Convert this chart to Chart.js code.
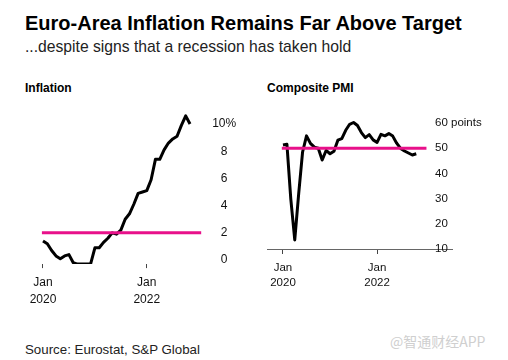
<!DOCTYPE html>
<html>
<head>
<meta charset="utf-8">
<script src="https://cdn.jsdelivr.net/npm/chart.js@4.4.0/dist/chart.umd.min.js"></script>
<style>
  body { margin: 0; width: 508px; height: 360px; overflow: hidden; position: relative; background: #fff;
         font-family: "Liberation Sans", Arial, sans-serif; color: #000; }
  .t { position: absolute; white-space: nowrap; line-height: 1; }
  canvas { position: absolute; left: 0; top: 0; }
</style>
</head>
<body>
<div class="t" style="left:25px;top:13px;font-size:20px;font-weight:bold">Euro-Area Inflation Remains Far Above Target</div>
<div class="t" style="left:25px;top:39px;font-size:15.7px;color:#222">...despite signs that a recession has taken hold</div>
<div class="t" style="left:25px;top:81.5px;font-size:12px;font-weight:bold">Inflation</div>
<div class="t" style="left:267px;top:81.5px;font-size:12px;font-weight:bold">Composite PMI</div>
<div class="t" style="left:25px;top:343px;font-size:13.3px;color:#222">Source: Eurostat, S&amp;P Global</div>
<div class="t" style="left:390px;top:334px;font-size:14px;color:#cfcfcf;font-family:'Noto Sans CJK SC',sans-serif">@智通财经APP</div>

<canvas id="inflChart" width="508" height="360"></canvas>
<canvas id="pmiChart" width="508" height="360"></canvas>

<script>
  // monthly data, Jan 2020 - Nov 2022
  const months = [
    '2020-01','2020-02','2020-03','2020-04','2020-05','2020-06','2020-07','2020-08','2020-09','2020-10','2020-11','2020-12',
    '2021-01','2021-02','2021-03','2021-04','2021-05','2021-06','2021-07','2021-08','2021-09','2021-10','2021-11','2021-12',
    '2022-01','2022-02','2022-03','2022-04','2022-05','2022-06','2022-07','2022-08','2022-09','2022-10','2022-11'
  ];
  const inflation = [
    1.4, 1.2, 0.7, 0.3, 0.1, 0.3, 0.4, -0.2, -0.3, -0.3, -0.3, -0.3,
    0.9, 0.9, 1.3, 1.6, 2.0, 1.9, 2.2, 3.0, 3.4, 4.1, 4.9, 5.0,
    5.1, 5.9, 7.4, 7.4, 8.1, 8.6, 8.9, 9.1, 9.9, 10.6, 10.0
  ];
  const pmi = [
    51.3, 51.6, 29.7, 13.6, 31.9, 48.5, 54.9, 51.9, 50.4, 50.0, 45.3, 49.1,
    47.8, 48.8, 53.2, 53.8, 57.1, 59.5, 60.2, 59.0, 56.2, 54.2, 55.4, 53.3,
    52.3, 55.5, 54.9, 55.8, 54.8, 52.0, 49.9, 48.9, 48.1, 47.3, 47.8
  ];
  const inflationTarget = 2;
  const pmiThreshold = 50;

  const xTickMonths = ['2020-01', '2022-01'];
  const xTickLabels = [['Jan', '2020'], ['Jan', '2022']];
  const inflTicks = [0, 2, 4, 6, 8, 10];
  const pmiTicks = [10, 20, 30, 40, 50, 60];

  const PINK = '#e8118a';
  const AXIS = '#666';
  Chart.defaults.font.family = '"Liberation Sans", Arial, sans-serif';
  Chart.defaults.color = '#111';

  const xTickValues = xTickMonths.map(m => months.indexOf(m));
  const toPoints = arr => arr.map((v, i) => ({ x: i, y: v }));
  const refLine = v => [{ x: -0.3, y: v }, { x: 36.6, y: v }];

  function lineSets(values, ref) {
    return [
      { data: refLine(ref), borderColor: PINK, borderWidth: 3, pointRadius: 0, order: 0 },
      { data: toPoints(values), borderColor: '#000', borderWidth: 3, pointRadius: 0,
        borderJoinStyle: 'round', tension: 0, order: 1 }
    ];
  }

  function xAxis(min, max, opts) {
    return {
      type: 'linear', min: min, max: max,
      afterBuildTicks: s => { s.ticks = xTickValues.map(v => ({ value: v })); },
      afterFit: s => { s.height = 40; },
      border: opts.border,
      grid: { drawOnChartArea: false, drawTicks: true, tickLength: opts.tickLength, color: '#444', lineWidth: 1 },
      ticks: {
        autoSkip: false, maxRotation: 0, padding: opts.padding,
        font: { size: opts.fontSize, lineHeight: opts.lineHeight },
        callback: v => xTickLabels[xTickValues.indexOf(v)]
      }
    };
  }

  // Inflation panel
  new Chart(document.getElementById('inflChart'), {
    type: 'line',
    data: { datasets: lineSets(inflation, inflationTarget) },
    options: {
      responsive: false, animation: false,
      layout: { padding: { left: 41.7, right: 266.3, top: 110.4, bottom: 55.9 } },
      plugins: { legend: { display: false }, tooltip: { enabled: false } },
      scales: {
        x: xAxis(-0.3, 36.7, { border: { display: false }, tickLength: 4, padding: 6, fontSize: 12, lineHeight: 1.4 }),
        y: {
          position: 'right', min: -0.3, max: 11,
          afterBuildTicks: s => { s.ticks = inflTicks.map(v => ({ value: v })); },
          afterFit: s => { s.width = 40; },
          border: { display: false },
          grid: { display: false, drawTicks: false },
          ticks: {
            crossAlign: 'center', padding: 10.5, font: { size: 12 },
            callback: v => v === 10 ? v + '%' : String(v)
          }
        }
      }
    }
  });

  // Composite PMI panel; the baseline runs on past the plot under the "10" label
  new Chart(document.getElementById('pmiChart'), {
    type: 'line',
    data: { datasets: lineSets(pmi, pmiThreshold) },
    options: {
      responsive: false, animation: false,
      layout: { padding: { left: 267, right: 15, top: 110.4, bottom: 71 } },
      plugins: { legend: { display: false }, tooltip: { enabled: false } },
      scales: {
        x: xAxis(-4.08, 38.27, { border: { display: true, color: AXIS, width: 1 }, tickLength: 5, padding: 6.5, fontSize: 11.5, lineHeight: 1.3 }),
        y: {
          position: 'right', min: 10, max: 65,
          afterBuildTicks: s => { s.ticks = pmiTicks.map(v => ({ value: v })); },
          afterFit: s => { s.width = 60; },
          border: { display: false },
          grid: {
            drawOnChartArea: false, drawTicks: true, tickLength: 20, lineWidth: 1,
            color: c => c.tick && c.tick.value === 10 ? AXIS : 'rgba(0,0,0,0)'
          },
          ticks: {
            crossAlign: 'near', padding: -18, font: { size: 11.5 },
            callback: v => v === 60 ? v + ' points' : String(v)
          }
        }
      }
    }
  });
</script>
</body>
</html>
